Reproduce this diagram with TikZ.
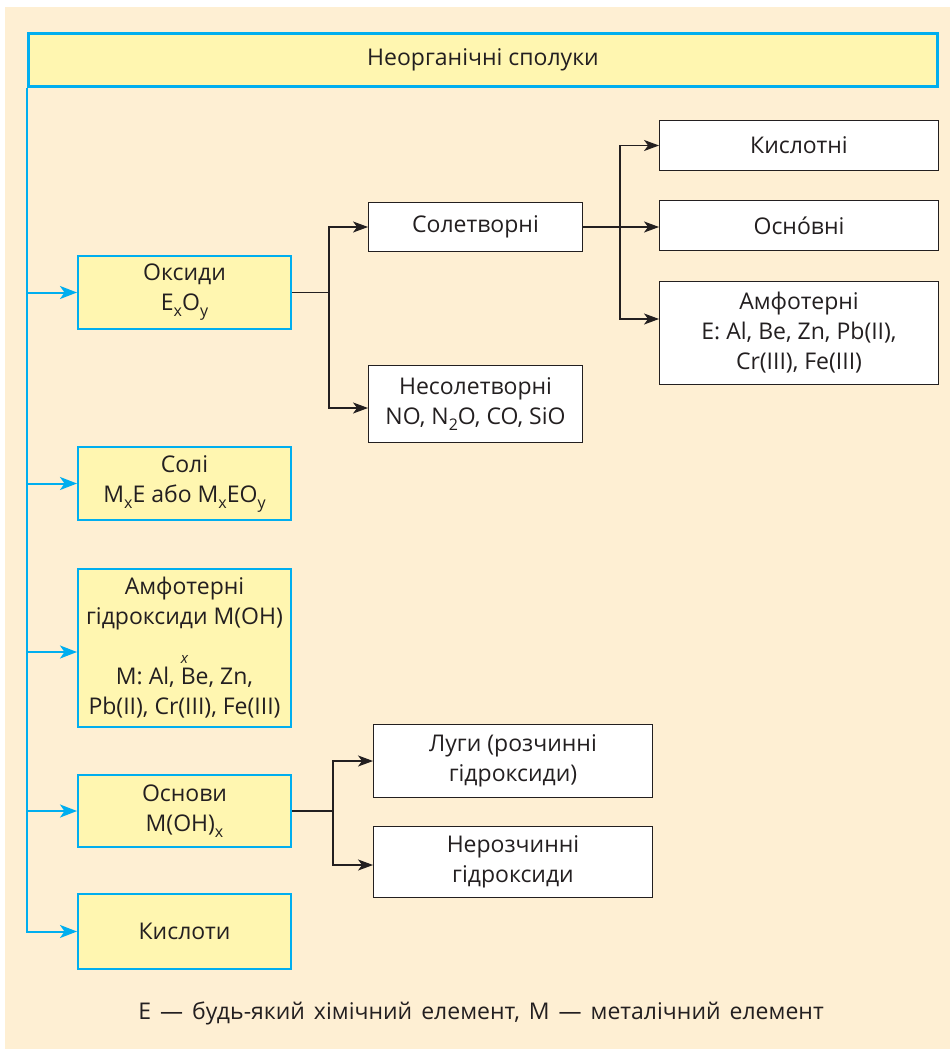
\documentclass[tikz,border=0pt]{standalone}
\usepackage{fontspec}
\setmainfont{Open Sans}
\usetikzlibrary{arrows.meta}
\definecolor{bg}{RGB}{254,239,211}
\definecolor{yel}{RGB}{255,246,176}
\definecolor{cyanb}{RGB}{0,174,239}
\definecolor{ink}{RGB}{35,31,32}
\newcommand\lsub[1]{\raisebox{-6pt}{\fontsize{16}{16}\selectfont #1}}
\begin{document}
\begin{tikzpicture}[x=1pt,y=-1pt, font=\fontsize{23}{30}\selectfont, text=ink,
 ybox/.style={draw=cyanb, line width=2pt, fill=yel, align=center, inner sep=0pt, minimum width=213pt},
 wbox/.style={draw=ink, line width=1.4pt, fill=white, align=center, inner sep=0pt},
 barrow/.style={draw=cyanb, line width=2pt, -{Stealth[length=17pt,width=13pt,inset=4.5pt]}},
 karrow/.style={draw=ink, line width=1.3pt, -{Stealth[length=15pt,width=11pt,inset=4pt]}},
 kline/.style={draw=ink, line width=1.3pt}]
\useasboundingbox (0,0) rectangle (950,1049);
\fill[bg] (5,7) rectangle (950,1049);
% top
\node[draw=cyanb, line width=3pt, fill=yel, inner sep=0pt, minimum width=909pt, minimum height=52.5pt] (top) at (483,59.75) {Неорганічні сполуки};
% left column
\node[ybox, minimum height=73pt] (oks) at (184.5,292.5) {Оксиди\\E\lsub{x}O\lsub{y}};
\node[ybox, minimum height=73pt] (soli) at (184.5,483.5) {Солі\\M\lsub{x}E або M\lsub{x}EO\lsub{y}};
\node[ybox, minimum height=158pt] (amf) at (184.5,648) {Амфотерні\\гідроксиди M(OH)\\\raisebox{-9pt}{\fontsize{15}{15}\selectfont\itshape x}\\M: Al, Be, Zn,\\Pb(II), Cr(III), Fe(III)};
\node[ybox, minimum height=72pt] (osn) at (184.5,811) {Основи\\M(OH)\lsub{x}};
\node[ybox, minimum height=75pt] (kisl) at (184.5,931.5) {Кислоти};
% oxide classes
\node[wbox, minimum width=213.5pt, minimum height=48.5pt] (solet) at (475.5,227) {Солетворні};
\node[wbox, minimum width=213.5pt, minimum height=76.5pt] (nesol) at (475.5,404) {Несолетворні\\NO, N\lsub{2}O, CO, SiO};
\node[wbox, minimum width=278.5pt, minimum height=49.5pt] (kislt) at (799,145.5) {Кислотні};
\node[wbox, minimum width=278.5pt, minimum height=49.5pt] (osnv) at (799,225.5) {Оснóвні};
\node[wbox, minimum width=278.5pt, minimum height=102.5pt] (amfo) at (799,333) {Амфотерні\\E: Al, Be, Zn, Pb(II),\\Cr(III), Fe(III)};
\node[wbox, minimum width=278.5pt, minimum height=72.5pt] (lugy) at (513,761) {Луги (розчинні\\гідроксиди)};
\node[wbox, minimum width=278.5pt, minimum height=70.5pt] (neroz) at (513,862) {Нерозчинні\\гідроксиди};
% footnote
\node (note) at (481,1013) {\spaceskip=9pt plus 1pt Е — будь-який хімічний елемент, М — металічний елемент};
% blue connectors
\draw[barrow] (top.south west) |- (kisl.west);
\draw[barrow] (top.south west |- oks.west) -- (oks.west);
\draw[barrow] (top.south west |- soli.west) -- (soli.west);
\draw[barrow] ([yshift=-4pt]top.south west |- amf.west) -- ([yshift=-4pt]amf.west);
\draw[barrow] (top.south west |- osn.west) -- (osn.west);
% black connectors
\coordinate (j1) at (329,292.5);
\draw[kline] (oks.east) -- (j1);
\draw[karrow] (j1) |- (solet.west);
\draw[karrow] (j1) |- ([yshift=-4pt]nesol.west);
\coordinate (j2) at (620,227);
\draw[karrow] (solet.east) -- (solet.east -| osnv.west);
\draw[karrow] (j2) |- (kislt.west);
\draw[karrow] (j2) |- ([yshift=14pt]amfo.west);
\coordinate (j3) at (333,811);
\draw[kline] (osn.east) -- (j3);
\draw[karrow] (j3) |- (lugy.west);
\draw[karrow] (j3) |- ([yshift=-3pt]neroz.west);
\end{tikzpicture}
\end{document}
